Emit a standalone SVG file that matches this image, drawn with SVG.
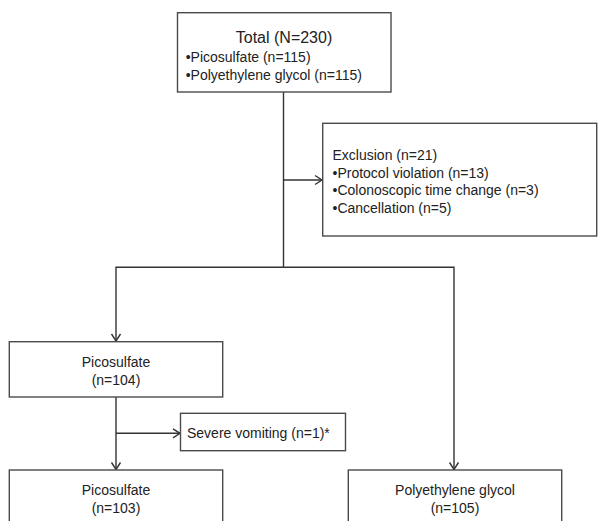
<svg xmlns="http://www.w3.org/2000/svg" width="598" height="521" viewBox="0 0 598 521">
<defs>
<style>
.box{fill:#fff;stroke:#4a4a4a;stroke-width:1.4}
.ln{fill:none;stroke:#333;stroke-width:1.4}
text{font-family:"Liberation Sans",Arial,sans-serif;font-size:14px;fill:#222}
.c{text-anchor:middle}
.t{font-size:16px}
</style>
<marker id="arr" markerUnits="userSpaceOnUse" markerWidth="12" markerHeight="12" viewBox="0 0 12 12" refX="9" refY="6" orient="auto">
<path d="M2,1.5 L9,6 L2,10.5" fill="none" stroke="#333" stroke-width="1.4"/>
</marker>
</defs>
<rect width="598" height="521" fill="#fff"/>
<g id="connectors">
<path class="ln" d="M283.5,92 V267.3"/>
<path class="ln" d="M283.5,180 H322" marker-end="url(#arr)"/>
<path class="ln" d="M283.5,267.3 H116 V341" marker-end="url(#arr)"/>
<path class="ln" d="M283.5,267.3 H454 V469.5" marker-end="url(#arr)"/>
<path class="ln" d="M116,397 V469.5" marker-end="url(#arr)"/>
<path class="ln" d="M116,433.3 H180" marker-end="url(#arr)"/>
</g>
<g id="total">
<rect class="box" x="177.5" y="12.7" width="213.5" height="79.3"/>
<text class="c t" x="284" y="42.5">Total (N=230)</text>
<text x="185.7" y="62">•Picosulfate (n=115)</text>
<text x="185.7" y="79.5">•Polyethylene glycol (n=115)</text>
</g>
<g id="exclusion">
<rect class="box" x="322.7" y="123.3" width="274" height="112.7"/>
<text x="332.5" y="160">Exclusion (n=21)</text>
<text x="332.5" y="177.5">•Protocol violation (n=13)</text>
<text x="332.5" y="195">•Colonoscopic time change (n=3)</text>
<text x="332.5" y="212.5">•Cancellation (n=5)</text>
</g>
<g id="pico1">
<rect class="box" x="9.3" y="341.7" width="213.4" height="55.3"/>
<text class="c" x="116" y="366.5">Picosulfate</text>
<text class="c" x="116" y="384.5">(n=104)</text>
</g>
<g id="vomit">
<rect class="box" x="180.5" y="413.3" width="165" height="37.4"/>
<text x="187" y="437.5">Severe vomiting (n=1)*</text>
</g>
<g id="pico2">
<rect class="box" x="9.3" y="470" width="213.4" height="60"/>
<text class="c" x="116" y="495">Picosulfate</text>
<text class="c" x="116" y="513">(n=103)</text>
</g>
<g id="peg">
<rect class="box" x="348.3" y="470" width="213.4" height="60"/>
<text class="c" x="455" y="495">Polyethylene glycol</text>
<text class="c" x="455" y="513">(n=105)</text>
</g>
</svg>
